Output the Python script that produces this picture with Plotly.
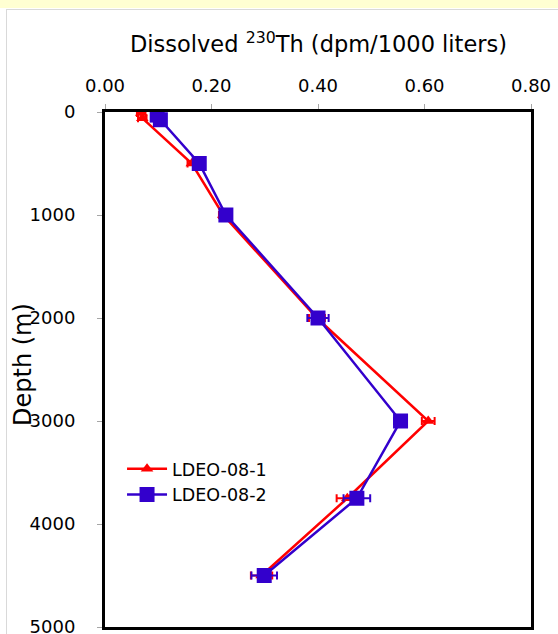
import plotly.graph_objects as go

# Data
depth_1 = [10, 60, 500, 1000, 2000, 3000, 3750, 4500]
th_1 = [0.068, 0.070, 0.163, 0.222, 0.398, 0.607, 0.455, 0.294]
err_1 = [0.008, 0.008, 0.008, 0.008, 0.015, 0.012, 0.02, 0.02]

depth_2 = [30, 75, 500, 1000, 2000, 3000, 3750, 4500]
th_2 = [0.098, 0.104, 0.177, 0.227, 0.400, 0.555, 0.473, 0.299]
err_2 = [0.01, 0.01, 0.01, 0.01, 0.02, 0.012, 0.025, 0.024]

x_ticks = [0.0, 0.2, 0.4, 0.6, 0.8]
y_ticks = [0, 1000, 2000, 3000, 4000, 5000]

RED = "#FF0000"
BLUE = "#3300CC"
FONT = "DejaVu Sans"

fig = go.Figure()
fig.add_trace(go.Scatter(
    x=th_1, y=depth_1, name="LDEO-08-1", mode="lines+markers",
    line=dict(color=RED, width=2.5),
    marker=dict(symbol="triangle-up", size=11, color=RED),
    error_x=dict(type="data", array=err_1, color=RED, thickness=2, width=4),
))
fig.add_trace(go.Scatter(
    x=th_2, y=depth_2, name="LDEO-08-2", mode="lines+markers",
    line=dict(color=BLUE, width=2.5),
    marker=dict(symbol="square", size=15, color=BLUE),
    error_x=dict(type="data", array=err_2, color=BLUE, thickness=2, width=4),
))

L, R, T, B = 105, 27, 112, 7
W, H = 558, 634
pw, ph = W - L - R, H - T - B

def px(xp):
    return (xp - L) / pw

def py(yp):
    return (H - B - yp) / ph

shapes = [
    dict(type="rect", xref="paper", yref="paper", x0=px(0), x1=px(W), y0=py(8), y1=py(0),
         fillcolor="#FFFFD2", line=dict(width=0), layer="below"),
    dict(type="line", xref="paper", yref="paper", x0=px(6), x1=px(W), y0=py(9.5), y1=py(9.5),
         line=dict(color="#D9D9D9", width=1)),
    dict(type="line", xref="paper", yref="paper", x0=px(6.5), x1=px(6.5), y0=py(9.5), y1=py(H),
         line=dict(color="#D9D9D9", width=1)),
]

tick_font = dict(family=FONT, size=18, color="black")

fig.update_layout(
    width=W, height=H,
    margin=dict(l=L, r=R, t=T, b=B, autoexpand=False),
    paper_bgcolor="white", plot_bgcolor="white",
    font=dict(family=FONT, color="black", size=18),
    showlegend=True,
    legend=dict(x=0.04, y=0.342, xanchor="left", yanchor="top",
                bgcolor="rgba(0,0,0,0)", font=dict(size=17.5, family=FONT),
                tracegroupgap=0, itemwidth=40),
    shapes=shapes,
    annotations=[
        dict(text="Dissolved <sup>230</sup>Th (dpm/1000 liters)", xref="paper", yref="paper",
             x=px(318), y=py(42), xanchor="center", yanchor="middle", showarrow=False,
             font=dict(size=22.5, family=FONT)),
        dict(text="Depth (m)", xref="paper", yref="paper", x=px(23), y=py(365),
             xanchor="center", yanchor="middle", showarrow=False, textangle=-90,
             font=dict(size=24, family=FONT)),
    ],
)
fig.update_xaxes(
    side="top", range=[0, 0.8], tickvals=x_ticks, tickformat=".2f", tickfont=tick_font,
    showgrid=False, zeroline=False, automargin=False,
    showline=True, linecolor="black", linewidth=3, mirror=True,
    ticks="outside", ticklen=5, tickcolor="#A6A6A6", tickwidth=1,
    ticklabelstandoff=5, ticklabeloverflow="allow",
)
fig.update_yaxes(
    range=[5000, 0], tickvals=y_ticks, tickfont=tick_font,
    showgrid=False, zeroline=False, automargin=False,
    showline=True, linecolor="black", linewidth=3, mirror=True,
    ticks="outside", ticklen=5, tickcolor="#A6A6A6", tickwidth=1,
    ticklabelstandoff=18, ticklabeloverflow="allow",
)

fig.write_html("out.html")
